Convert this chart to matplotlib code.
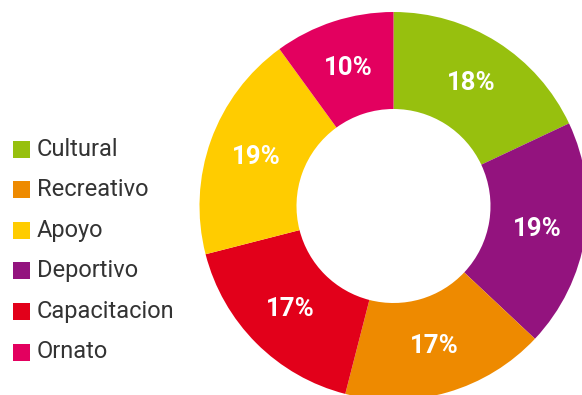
import matplotlib
matplotlib.use('Agg')
import matplotlib.pyplot as plt
from matplotlib.patches import Rectangle

# slices, clockwise from the top
categories = ['Cultural', 'Deportivo', 'Recreativo', 'Capacitacion', 'Apoyo', 'Ornato']
values = [18, 19, 17, 17, 19, 10]
colors = ['#97C00E', '#93137E', '#EE8A00', '#E2001A', '#FFCC00', '#E3005F']

legend_order = ['Cultural', 'Recreativo', 'Apoyo', 'Deportivo', 'Capacitacion', 'Ornato']

font = ['Roboto', 'DejaVu Sans']

W, H = 582, 395
fig = plt.figure(figsize=(W / 100, H / 100), dpi=100)
ax = fig.add_axes([0, 0, 1, 1])

R = 194
wedges, texts, autotexts = ax.pie(
    values, colors=colors, startangle=90, counterclock=False,
    center=(393.5, H - 206), radius=R,
    wedgeprops=dict(width=R * 0.5, linewidth=0),
    autopct='%d%%', pctdistance=0.75,
    textprops=dict(color='white', fontsize=18.5, fontweight='bold', family=font))

# legend drawn by hand
for i, name in enumerate(legend_order):
    y = H - (149 + i * 40.6)
    c = colors[categories.index(name)]
    ax.add_patch(Rectangle((13, y - 8.5), 17, 17, color=c, lw=0))
    ax.text(37, y, name, fontsize=17, color='#333333', va='center', ha='left',
            family=font)

ax.set_xlim(0, W)
ax.set_ylim(0, H)
ax.set_aspect('equal')
ax.axis('off')

fig.savefig('out.png', dpi=100)
